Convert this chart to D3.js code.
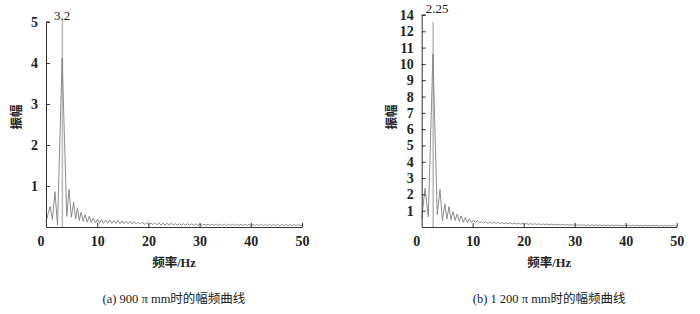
<!DOCTYPE html>
<html>
<head>
<meta charset="utf-8">
<script src="https://cdn.jsdelivr.net/npm/d3@7"></script>
<style>
  body { margin: 0; background: #fff; }
  svg { display: block; }
  .num { font-family: "Liberation Serif", "Times New Roman", serif; }
  .cjk { font-family: "Liberation Serif", "Noto Sans CJK SC", serif; }
</style>
</head>
<body>
<div id="plotdiv"></div>
<script>
// (a) 900 pi mm : frequency (Hz) / amplitude
var freqHeadA = [0, 0.4, 0.8, 1.25, 1.75, 2.25, 3.15, 4.05, 4.5, 4.95, 5.4, 5.8, 6.15, 6.5, 6.85, 7.25, 7.65, 8.05, 8.45, 8.85, 9.25, 9.65];
var ampHeadA  = [0.12, 0.32, 0.5, 0.18, 0.86, 0.05, 4.12, 0.26, 0.92, 0.24, 0.6, 0.2, 0.46, 0.16, 0.36, 0.14, 0.3, 0.12, 0.26, 0.11, 0.22, 0.1];
var freqTailA = [
  10.05, 10.45, 10.85, 11.25, 11.65, 12.05, 12.45, 12.85, 13.25, 13.65,
  14.05, 14.45, 14.85, 15.25, 15.65, 16.05, 16.45, 16.85, 17.25, 17.65,
  18.05, 18.45, 18.85, 19.25, 19.65, 20.05, 20.45, 20.85, 21.25, 21.65,
  22.05, 22.45, 22.85, 23.25, 23.65, 24.05, 24.45, 24.85, 25.25, 25.65,
  26.05, 26.45, 26.85, 27.25, 27.65, 28.05, 28.45, 28.85, 29.25, 29.65,
  30.05, 30.45, 30.85, 31.25, 31.65, 32.05, 32.45, 32.85, 33.25, 33.65,
  34.05, 34.45, 34.85, 35.25, 35.65, 36.05, 36.45, 36.85, 37.25, 37.65,
  38.05, 38.45, 38.85, 39.25, 39.65, 40.05, 40.45, 40.85, 41.25, 41.65,
  42.05, 42.45, 42.85, 43.25, 43.65, 44.05, 44.45, 44.85, 45.25, 45.65,
  46.05, 46.45, 46.85, 47.25, 47.65, 48.05, 48.45, 48.85, 49.25, 49.65,
  50];
var ampTailA = [
  0.19, 0.09, 0.18, 0.09, 0.17, 0.09, 0.17, 0.09, 0.16, 0.09,
  0.16, 0.08, 0.15, 0.08, 0.14, 0.08, 0.14, 0.07, 0.13, 0.07,
  0.12, 0.07, 0.12, 0.06, 0.11, 0.06, 0.10, 0.06, 0.10, 0.05,
  0.10, 0.05, 0.09, 0.05, 0.09, 0.05, 0.09, 0.05, 0.08, 0.045,
  0.08, 0.045, 0.08, 0.045, 0.08, 0.045, 0.075, 0.04, 0.075, 0.04,
  0.07, 0.04, 0.07, 0.04, 0.07, 0.04, 0.07, 0.04, 0.07, 0.04,
  0.068, 0.038, 0.068, 0.038, 0.068, 0.038, 0.068, 0.038, 0.066, 0.036,
  0.066, 0.036, 0.066, 0.036, 0.065, 0.035, 0.065, 0.035, 0.065, 0.035,
  0.065, 0.035, 0.064, 0.034, 0.064, 0.034, 0.064, 0.034, 0.063, 0.033,
  0.063, 0.033, 0.063, 0.033, 0.062, 0.032, 0.062, 0.032, 0.062, 0.032,
  0.05];

// (b) 1 200 pi mm
var freqHeadB = [0, 0.65, 1.3, 2.2, 3.05, 3.6, 4.05, 4.55, 4.95, 5.35, 5.75, 6.15, 6.55, 6.95, 7.35, 7.75, 8.15, 8.55, 8.95, 9.35, 9.75];
var ampHeadB  = [0.5, 2.37, 0.62, 10.6, 0.75, 2.3, 0.4, 1.4, 0.5, 1.25, 0.45, 0.95, 0.4, 0.8, 0.35, 0.68, 0.3, 0.58, 0.28, 0.5, 0.27];
var freqTailB = [
  10.15, 10.55, 10.95, 11.35, 11.75, 12.15, 12.55, 12.95, 13.35, 13.75,
  14.15, 14.55, 14.95, 15.35, 15.75, 16.15, 16.55, 16.95, 17.35, 17.75,
  18.15, 18.55, 18.95, 19.35, 19.75, 20.15, 20.55, 20.95, 21.35, 21.75,
  22.15, 22.55, 22.95, 23.35, 23.75, 24.15, 24.55, 24.95, 25.35, 25.75,
  26.15, 26.55, 26.95, 27.35, 27.75, 28.15, 28.55, 28.95, 29.35, 29.75,
  30.15, 30.55, 30.95, 31.35, 31.75, 32.15, 32.55, 32.95, 33.35, 33.75,
  34.15, 34.55, 34.95, 35.35, 35.75, 36.15, 36.55, 36.95, 37.35, 37.75,
  38.15, 38.55, 38.95, 39.35, 39.75, 40.15, 40.55, 40.95, 41.35, 41.75,
  42.15, 42.55, 42.95, 43.35, 43.75, 44.15, 44.55, 44.95, 45.35, 45.75,
  46.15, 46.55, 46.95, 47.35, 47.75, 48.15, 48.55, 48.95, 49.35, 49.75,
  50];
var ampTailB = [
  0.42, 0.26, 0.38, 0.25, 0.35, 0.24, 0.33, 0.23, 0.31, 0.22,
  0.30, 0.21, 0.29, 0.20, 0.28, 0.20, 0.27, 0.19, 0.26, 0.18,
  0.25, 0.18, 0.24, 0.17, 0.23, 0.16, 0.22, 0.16, 0.21, 0.15,
  0.21, 0.15, 0.20, 0.14, 0.19, 0.14, 0.19, 0.13, 0.18, 0.13,
  0.17, 0.12, 0.17, 0.12, 0.16, 0.11, 0.16, 0.11, 0.15, 0.10,
  0.15, 0.10, 0.14, 0.10, 0.14, 0.09, 0.14, 0.09, 0.13, 0.09,
  0.13, 0.09, 0.13, 0.08, 0.12, 0.08, 0.12, 0.08, 0.12, 0.08,
  0.12, 0.08, 0.11, 0.07, 0.11, 0.07, 0.11, 0.07, 0.11, 0.07,
  0.11, 0.07, 0.10, 0.07, 0.10, 0.07, 0.10, 0.07, 0.10, 0.07,
  0.10, 0.06, 0.10, 0.06, 0.10, 0.06, 0.10, 0.06, 0.10, 0.06,
  0.08];

var xTicks = [10, 20, 30, 40, 50];
var yTicksA = [1, 2, 3, 4, 5];
var yLabelsA = ["1", "2", "3", "4", "5"];
// the original panel skips 13 and prints 14 at the top tick
var yTicksB = [1, 2, 3, 4, 5, 6, 7, 8, 9, 10, 11, 12, 13];
var yLabelsB = ["1", "2", "3", "4", "5", "6", "7", "8", "9", "10", "11", "12", "14"];

var peakA = 3.2, peakLabelA = "3.2";
var peakB = 2.25, peakLabelB = "2.25";
var captionA = "(a) 900 π mm时的幅频曲线";
var captionB = "(b) 1 200 π mm时的幅频曲线";

var width = 700, height = 314;
var svg = d3.select("#plotdiv").append("svg")
	.attr("width", width)
	.attr("height", height);
svg.append("rect").attr("width", width).attr("height", height).attr("fill", "#fff");

function drawPanel(p)
{
	var x = d3.scaleLinear().domain([0, 50]).range([p.left, p.right]);
	var y = d3.scaleLinear().domain([0, p.yMax]).range([p.bottom, p.top]);
	var g = svg.append("g");

	var data = d3.zip(p.freq, p.amp);
	var line = d3.line().x(function(d){return x(d[0]);}).y(function(d){return y(d[1]);});

	// peak marker
	g.append("line")
		.attr("x1", x(p.peak)).attr("x2", x(p.peak))
		.attr("y1", p.bottom).attr("y2", p.markTop)
		.attr("stroke", "#bdbdbd")
		.attr("stroke-width", 1.6);

	g.append("path")
		.datum(data)
		.attr("d", line)
		.attr("fill", "none")
		.attr("stroke", "#808080")
		.attr("stroke-width", 0.9);

	var yAxis = d3.axisLeft(y)
		.tickValues(p.yTicks)
		.tickFormat(function(d, i){return p.yLabels[i];})
		.tickSizeInner(-4)
		.tickSizeOuter(0)
		.tickPadding(8);
	var ya = g.append("g").attr("transform", "translate(" + p.left + ",0)").call(yAxis);

	var xAxis = d3.axisBottom(x)
		.tickValues(xTicks)
		.tickSizeInner(-4)
		.tickSizeOuter(0)
		.tickPadding(9);
	var xa = g.append("g").attr("transform", "translate(0," + p.bottom + ")").call(xAxis);

	[ya, xa].forEach(function(a){
		a.selectAll("path, line").attr("stroke", "#333").attr("stroke-width", 1);
		a.selectAll("text")
			.attr("class", "num")
			.attr("fill", "#222")
			.style("font-size", "14px")
			.style("font-weight", "bold");
	});
	// top tick of the y axis
	g.append("line")
		.attr("x1", p.left).attr("x2", p.left + 4)
		.attr("y1", p.top).attr("y2", p.top)
		.attr("stroke", "#333");

	g.append("text")
		.attr("class", "num")
		.attr("x", p.left - 5).attr("y", p.bottom + 19)
		.attr("text-anchor", "middle")
		.style("font-size", "14px").style("font-weight", "bold")
		.attr("fill", "#222")
		.text("0");

	g.append("text")
		.attr("class", "num")
		.attr("x", p.peakLabelX).attr("y", p.top - 2)
		.attr("text-anchor", "middle")
		.style("font-size", "13px")
		.attr("fill", "#222")
		.text(p.peakLabel);

	g.append("text")
		.attr("class", "cjk")
		.attr("transform", "translate(" + (p.left - p.yTitleOff) + "," + 117 + ") rotate(-90)")
		.attr("text-anchor", "middle")
		.attr("dominant-baseline", "middle")
		.style("font-size", "12.5px").style("font-weight", "bold")
		.attr("fill", "#222")
		.text("振幅");

	var cx = (p.left + p.right) / 2;
	g.append("text")
		.attr("class", "cjk")
		.attr("x", cx).attr("y", 267)
		.attr("text-anchor", "middle")
		.style("font-size", "12.5px").style("font-weight", "bold")
		.attr("fill", "#222")
		.text("频率/Hz");

	g.append("text")
		.attr("class", "cjk")
		.attr("x", cx).attr("y", 303)
		.attr("text-anchor", "middle")
		.style("font-size", "12.5px")
		.attr("fill", "#222")
		.text(p.caption);
}

drawPanel({
	left: 46, right: 302, top: 22, bottom: 227, yMax: 5,
	freq: freqHeadA.concat(freqTailA), amp: ampHeadA.concat(ampTailA),
	yTicks: yTicksA, yLabels: yLabelsA,
	peak: peakA, peakLabel: peakLabelA, peakLabelX: 62, markTop: 20,
	yTitleOff: 28, caption: captionA
});

drawPanel({
	left: 421.7, right: 676.7, top: 15, bottom: 227, yMax: 13,
	freq: freqHeadB.concat(freqTailB), amp: ampHeadB.concat(ampTailB),
	yTicks: yTicksB, yLabels: yLabelsB,
	peak: peakB, peakLabel: peakLabelB, peakLabelX: 437, markTop: 22,
	yTitleOff: 29, caption: captionB
});
</script>
</body>
</html>
